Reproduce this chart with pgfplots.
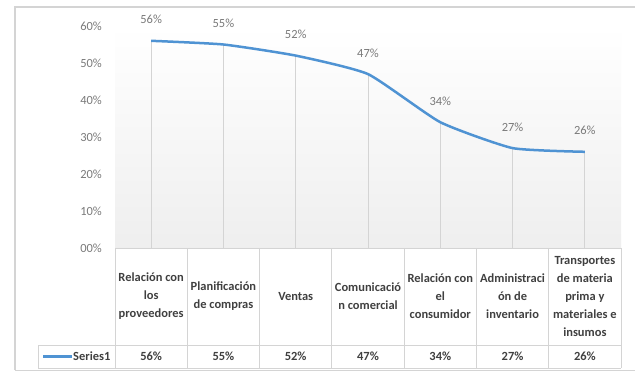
\documentclass[border=0pt]{standalone}
\usepackage{pgfplots}
\pgfplotsset{compat=1.18}
\usepackage{fontspec}
\setmainfont{Carlito}
\definecolor{lineblue}{HTML}{4F93D3}
\definecolor{gridgray}{HTML}{D4D4D4}
\definecolor{tickgray}{HTML}{7A7A7A}
\definecolor{textdark}{HTML}{404040}

\pgfplotstableread{
x  y
0  0.56
1  0.55
2  0.52
3  0.47
4  0.34
5  0.27
6  0.26
}\seriesone

\begin{document}
\begin{tikzpicture}[x=1bp,y=1bp]
\useasboundingbox (0,0) rectangle (635,371);
\fill[white] (0,0) rectangle (635,371);
% chart frame
\draw[gridgray, line width=1.2bp] (15,0.6) -- (15,364) -- (635,364);
\draw[gridgray, line width=1.2bp] (15,0.6) -- (635,0.6);

\begin{axis}[
  at={(115bp,123bp)}, anchor=south west, scale only axis,
  width=506bp, height=222bp,
  xmin=-0.5, xmax=6.5, ymin=0, ymax=0.6,
  axis line style={draw=none},
  xtick=\empty,
  ytick={0,0.1,0.2,0.3,0.4,0.5,0.6},
  yticklabels={00\%,10\%,20\%,30\%,40\%,50\%,60\%},
  major tick length=0pt,
  /pgf/number format/assume math mode=true,
  yticklabel style={font=\fontsize{12.5}{15}\selectfont, text=tickgray,
    inner sep=0pt, xshift=-13bp},
  axis background/.style={shade, top color=white, bottom color=gray!13},
  clip=false,
]
% drop lines
\addplot[ycomb, gridgray, line width=1bp, no markers] table {\seriesone};
% Series1
\addplot[lineblue, line width=2.5bp, smooth, tension=0.3, no markers,
  point meta={y*100},
  nodes near coords={\pgfmathprintnumber[fixed,precision=0,assume math mode=true]{\pgfplotspointmeta}\%},
  every node near coord/.append style={font=\fontsize{12.5}{15}\selectfont,
    text=tickgray, inner sep=0pt, yshift=15.5bp}]
  table {\seriesone};
\end{axis}

% data table
\def\cw{72.2857}
\draw[gridgray, line width=1bp] (115,123) -- (621,123);
\draw[gridgray, line width=1bp] (38,26) -- (621,26);
\draw[gridgray, line width=1bp] (38,3) -- (621,3);
\draw[gridgray, line width=1bp] (38,3) -- (38,26);
\foreach \k in {0,...,7} {
  \draw[gridgray, line width=1bp] ({115+\k*\cw},123) -- ({115+\k*\cw},3);
}
\foreach \k/\t in {
  0/{Relación con\\los\\proveedores},
  1/{Planificación\\de compras},
  2/{Ventas},
  3/{Comunicació\\n comercial},
  4/{Relación con\\el\\consumidor},
  5/{Administraci\\ón de\\inventario},
  6/{Transportes\\de materia\\prima y\\materiales e\\insumos}} {
  \node[align=center, inner sep=0pt, text=textdark,
    font=\bfseries\fontsize{12.5}{18}\selectfont]
    at ({115+(\k+0.5)*\cw},74.5) {\t};
}
\foreach \k/\v in {0/56,1/55,2/52,3/47,4/34,5/27,6/26} {
  \node[inner sep=0pt, text=textdark, font=\bfseries\fontsize{12.5}{15}\selectfont]
    at ({115+(\k+0.5)*\cw},14.5) {\v\%};
}
% legend key
\draw[lineblue, line width=2.5bp] (43,14.5) -- (72,14.5);
\node[anchor=west, inner sep=0pt, text=textdark,
  font=\bfseries\fontsize{12.5}{15}\selectfont] at (73,14.5) {Series1};
\end{tikzpicture}
\end{document}
